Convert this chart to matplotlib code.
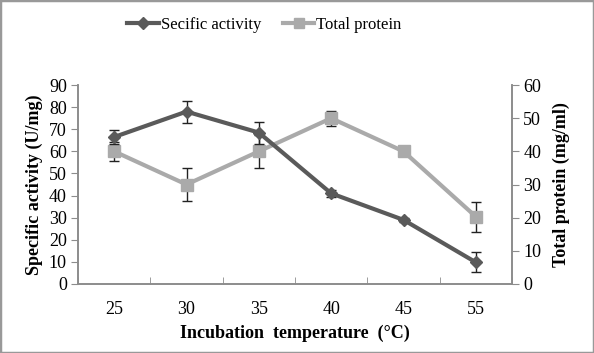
import matplotlib.pyplot as plt
from matplotlib.lines import Line2D
from matplotlib.patches import Rectangle

temps = ["25", "30", "35", "40", "45", "55"]
activity = [66.5, 78, 68.5, 41, 29, 9.8]
activity_err = [3, 5, 5, 1.5, 0.8, 4.5]
protein = [40, 30, 40, 50, 40, 20.3]
protein_err = [2.8, 5, 5, 2.2, 0.5, 4.5]

plt.rcParams["font.family"] = ["Liberation Serif", "DejaVu Serif"]

dark = "#5a5a5a"
light = "#aaaaaa"
axis_col = "#8c8c8c"

fig = plt.figure(figsize=(5.94, 3.53), dpi=100)
ax = fig.add_axes([0.1313, 0.1955, 0.7307, 0.5635])
ax2 = ax.twinx()

x = list(range(len(temps)))

ax2.errorbar(x, protein, yerr=protein_err, color=light, linewidth=3, marker="s",
             markersize=9, ecolor="#222222", elinewidth=1, capsize=3.5, capthick=1,
             zorder=2)
ax.errorbar(x, activity, yerr=activity_err, color=dark, linewidth=3, marker="D",
            markersize=6.5, ecolor="#222222", elinewidth=1, capsize=3.5, capthick=1,
            zorder=3)

ax.set_zorder(ax2.get_zorder() + 1)
ax.patch.set_visible(False)

ax.set_xlim(-0.5, len(temps) - 0.5)
ax.set_ylim(0, 90)
ax2.set_ylim(0, 60)
ax.set_yticks(range(0, 91, 10))
ax2.set_yticks(range(0, 61, 10))
ax.set_xticks(x)
ax.set_xticklabels(temps)
ax.set_xticks([i - 0.5 for i in range(len(temps) + 1)], minor=True)
ax.tick_params(axis="x", which="major", length=0, labelsize=13, pad=12)
ax.tick_params(axis="x", which="minor", direction="in", length=5, color=axis_col)
ax.tick_params(axis="y", length=5, color=axis_col, labelsize=13, pad=3)
ax2.tick_params(axis="y", length=5, color=axis_col, labelsize=13, pad=3)

for a in (ax, ax2):
    a.spines["top"].set_visible(False)
    for s in ("left", "right", "bottom"):
        a.spines[s].set_color(axis_col)
        a.spines[s].set_linewidth(1.2)

ax.set_xlabel("Incubation  temperature  (°C)", fontsize=13, fontweight="bold", labelpad=5)
ax.set_ylabel("Specific activity (U/mg)", fontsize=13, fontweight="bold", labelpad=4)
ax2.set_ylabel("Total protein (mg/ml)", fontsize=13, fontweight="bold", labelpad=8)

handles = [
    Line2D([], [], color=dark, linewidth=3, marker="D", markersize=6),
    Line2D([], [], color=light, linewidth=3, marker="s", markersize=7.5),
]
fig.legend(handles, ["Secific activity", "Total protein"], loc="center",
           bbox_to_anchor=(0.445, 0.93), ncol=2, frameon=False, fontsize=12,
           handlelength=1.9, handletextpad=0.1, columnspacing=1.3)

fig.patches.append(Rectangle((0, 0), 1, 1, transform=fig.transFigure, fill=False,
                             edgecolor="#999999", linewidth=2.5))

fig.savefig("out.png", dpi=100)
